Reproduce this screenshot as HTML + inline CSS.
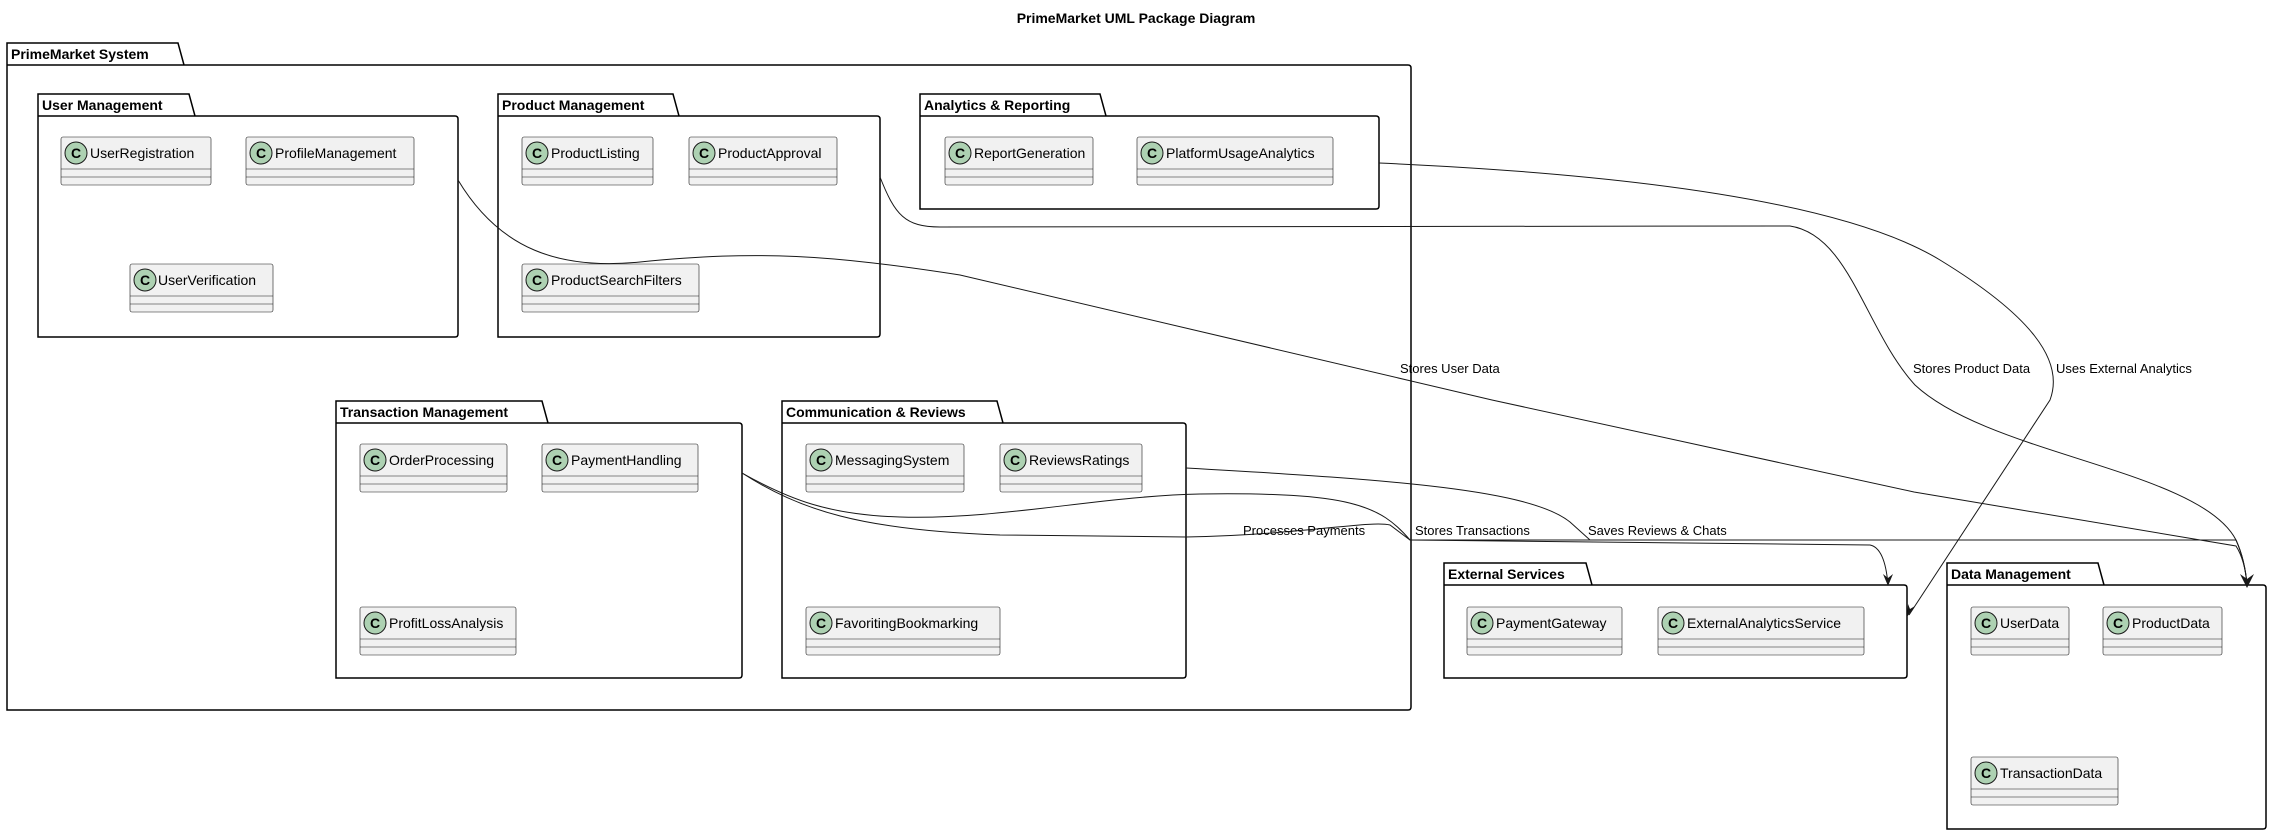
<!DOCTYPE html>
<html><head><meta charset="utf-8"><style>
html,body{margin:0;padding:0;background:#fff;}
svg{display:block;font-family:"Liberation Sans","DejaVu Sans",sans-serif;}
.pk{fill:none;stroke:#000;stroke-width:1.5;}
.pt{font-weight:bold;font-size:14px;fill:#000;}
.cl{fill:#f1f1f1;stroke:#181818;stroke-width:0.6;}
.ct{font-size:14px;fill:#000;}
.ed{fill:none;stroke:#181818;stroke-width:1;}
.lb{font-size:13px;fill:#000;}
</style></head><body>
<svg width="2272" height="835" viewBox="0 0 2272 835" xmlns="http://www.w3.org/2000/svg">
<text x="1136" y="23" text-anchor="middle" style="font-weight:bold;font-size:14px">PrimeMarket UML Package Diagram</text>

<path class="pk" d="M7,43 H178 L184,65 H1408 Q1411,65 1411,68 V707 Q1411,710 1408,710 H7 Z M7,65 H184"/>
<text class="pt" x="11" y="59">PrimeMarket System</text>

<g id="pkgs">
<path class="pk" d="M38,94 H189 L195,116 H455 Q458,116 458,119 V334 Q458,337 455,337 H38 Z M38,116 H195"/>
<text class="pt" x="42" y="110">User Management</text>
<path class="pk" d="M498,94 H673 L679,116 H877 Q880,116 880,119 V334 Q880,337 877,337 H498 Z M498,116 H679"/>
<text class="pt" x="502" y="110">Product Management</text>
<path class="pk" d="M920,94 H1100 L1106,116 H1376 Q1379,116 1379,119 V206 Q1379,209 1376,209 H920 Z M920,116 H1106"/>
<text class="pt" x="924" y="110">Analytics &amp; Reporting</text>
<path class="pk" d="M336,401 H542 L548,423 H739 Q742,423 742,426 V675 Q742,678 739,678 H336 Z M336,423 H548"/>
<text class="pt" x="340" y="417">Transaction Management</text>
<path class="pk" d="M782,401 H997 L1003,423 H1183 Q1186,423 1186,426 V675 Q1186,678 1183,678 H782 Z M782,423 H1003"/>
<text class="pt" x="786" y="417">Communication &amp; Reviews</text>
<path class="pk" d="M1444,563 H1586 L1592,585 H1904 Q1907,585 1907,588 V675 Q1907,678 1904,678 H1444 Z M1444,585 H1592"/>
<text class="pt" x="1448" y="579">External Services</text>
<path class="pk" d="M1947,563 H2098 L2104,585 H2263 Q2266,585 2266,588 V826 Q2266,829 2263,829 H1947 Z M1947,585 H2104"/>
<text class="pt" x="1951" y="579">Data Management</text>
</g>

<defs>
<g id="ci"><circle cx="0" cy="0" r="11" fill="#ADD1B2" stroke="#181818" stroke-width="1"/><text x="0" y="5" text-anchor="middle" style="font-size:14px;font-weight:bold">C</text></g>
</defs>
<g>
<rect class="cl" x="61" y="137" width="150" height="48" rx="2"/><line class="cl" x1="61" y1="169" x2="211" y2="169"/><line class="cl" x1="61" y1="177" x2="211" y2="177"/><use href="#ci" x="76" y="153"/><text class="ct" x="90" y="158">UserRegistration</text>
<rect class="cl" x="246" y="137" width="168" height="48" rx="2"/><line class="cl" x1="246" y1="169" x2="414" y2="169"/><line class="cl" x1="246" y1="177" x2="414" y2="177"/><use href="#ci" x="261" y="153"/><text class="ct" x="275" y="158">ProfileManagement</text>
<rect class="cl" x="130" y="264" width="143" height="48" rx="2"/><line class="cl" x1="130" y1="296" x2="273" y2="296"/><line class="cl" x1="130" y1="304" x2="273" y2="304"/><use href="#ci" x="145" y="280"/><text class="ct" x="158" y="285">UserVerification</text>

<rect class="cl" x="522" y="137" width="131" height="48" rx="2"/><line class="cl" x1="522" y1="169" x2="653" y2="169"/><line class="cl" x1="522" y1="177" x2="653" y2="177"/><use href="#ci" x="537" y="153"/><text class="ct" x="551" y="158">ProductListing</text>
<rect class="cl" x="689" y="137" width="148" height="48" rx="2"/><line class="cl" x1="689" y1="169" x2="837" y2="169"/><line class="cl" x1="689" y1="177" x2="837" y2="177"/><use href="#ci" x="704" y="153"/><text class="ct" x="718" y="158">ProductApproval</text>
<rect class="cl" x="522" y="264" width="177" height="48" rx="2"/><line class="cl" x1="522" y1="296" x2="699" y2="296"/><line class="cl" x1="522" y1="304" x2="699" y2="304"/><use href="#ci" x="537" y="280"/><text class="ct" x="551" y="285">ProductSearchFilters</text>

<rect class="cl" x="945" y="137" width="148" height="48" rx="2"/><line class="cl" x1="945" y1="169" x2="1093" y2="169"/><line class="cl" x1="945" y1="177" x2="1093" y2="177"/><use href="#ci" x="960" y="153"/><text class="ct" x="974" y="158">ReportGeneration</text>
<rect class="cl" x="1137" y="137" width="196" height="48" rx="2"/><line class="cl" x1="1137" y1="169" x2="1333" y2="169"/><line class="cl" x1="1137" y1="177" x2="1333" y2="177"/><use href="#ci" x="1152" y="153"/><text class="ct" x="1166" y="158">PlatformUsageAnalytics</text>

<rect class="cl" x="360" y="444" width="147" height="48" rx="2"/><line class="cl" x1="360" y1="476" x2="507" y2="476"/><line class="cl" x1="360" y1="484" x2="507" y2="484"/><use href="#ci" x="375" y="460"/><text class="ct" x="389" y="465">OrderProcessing</text>
<rect class="cl" x="542" y="444" width="156" height="48" rx="2"/><line class="cl" x1="542" y1="476" x2="698" y2="476"/><line class="cl" x1="542" y1="484" x2="698" y2="484"/><use href="#ci" x="557" y="460"/><text class="ct" x="571" y="465">PaymentHandling</text>
<rect class="cl" x="360" y="607" width="156" height="48" rx="2"/><line class="cl" x1="360" y1="639" x2="516" y2="639"/><line class="cl" x1="360" y1="647" x2="516" y2="647"/><use href="#ci" x="375" y="623"/><text class="ct" x="389" y="628">ProfitLossAnalysis</text>

<rect class="cl" x="806" y="444" width="158" height="48" rx="2"/><line class="cl" x1="806" y1="476" x2="964" y2="476"/><line class="cl" x1="806" y1="484" x2="964" y2="484"/><use href="#ci" x="821" y="460"/><text class="ct" x="835" y="465">MessagingSystem</text>
<rect class="cl" x="1000" y="444" width="142" height="48" rx="2"/><line class="cl" x1="1000" y1="476" x2="1142" y2="476"/><line class="cl" x1="1000" y1="484" x2="1142" y2="484"/><use href="#ci" x="1015" y="460"/><text class="ct" x="1029" y="465">ReviewsRatings</text>
<rect class="cl" x="806" y="607" width="194" height="48" rx="2"/><line class="cl" x1="806" y1="639" x2="1000" y2="639"/><line class="cl" x1="806" y1="647" x2="1000" y2="647"/><use href="#ci" x="821" y="623"/><text class="ct" x="835" y="628">FavoritingBookmarking</text>

<rect class="cl" x="1467" y="607" width="155" height="48" rx="2"/><line class="cl" x1="1467" y1="639" x2="1622" y2="639"/><line class="cl" x1="1467" y1="647" x2="1622" y2="647"/><use href="#ci" x="1482" y="623"/><text class="ct" x="1496" y="628">PaymentGateway</text>
<rect class="cl" x="1658" y="607" width="206" height="48" rx="2"/><line class="cl" x1="1658" y1="639" x2="1864" y2="639"/><line class="cl" x1="1658" y1="647" x2="1864" y2="647"/><use href="#ci" x="1673" y="623"/><text class="ct" x="1687" y="628">ExternalAnalyticsService</text>

<rect class="cl" x="1971" y="607" width="98" height="48" rx="2"/><line class="cl" x1="1971" y1="639" x2="2069" y2="639"/><line class="cl" x1="1971" y1="647" x2="2069" y2="647"/><use href="#ci" x="1986" y="623"/><text class="ct" x="2000" y="628">UserData</text>
<rect class="cl" x="2103" y="607" width="119" height="48" rx="2"/><line class="cl" x1="2103" y1="639" x2="2222" y2="639"/><line class="cl" x1="2103" y1="647" x2="2222" y2="647"/><use href="#ci" x="2118" y="623"/><text class="ct" x="2132" y="628">ProductData</text>
<rect class="cl" x="1971" y="757" width="147" height="48" rx="2"/><line class="cl" x1="1971" y1="789" x2="2118" y2="789"/><line class="cl" x1="1971" y1="797" x2="2118" y2="797"/><use href="#ci" x="1986" y="773"/><text class="ct" x="2000" y="778">TransactionData</text>
</g>

<path class="ed" d="M458,180 C500,250 560,270 640,262 C760,250 830,255 960,275 L1492,400 L1914,492 L2236,546 Q2245,560 2247,585"/>
<path class="ed" d="M880,177 C895,215 905,227 940,227 L1790,226 C1850,235 1865,330 1915,385 C1990,455 2200,470 2236,540 Q2245,560 2247,585"/>
<path class="ed" d="M1379,163 C1650,175 1850,205 1940,260 C2030,315 2065,360 2050,400 L1909,615"/>
<path class="ed" d="M742,473 C790,500 830,515 900,517 C1000,520 1100,496 1200,494 C1350,492 1380,505 1410,540 L2236,540 Q2245,560 2247,585"/>
<path class="ed" d="M742,473 C800,510 860,530 1000,535 L1186,537 C1300,535 1370,520 1390,525 L1410,540 L1870,545 Q1885,548 1888,585"/>
<path class="ed" d="M1186,468 C1400,480 1530,490 1570,522 L1590,540 L2236,540"/>
<path d="M2247,588 L2240,574 L2247,579 L2254,574 Z" fill="#181818"/>
<path d="M1888,586 L1883,574 L1888,578 L1893,574 Z" fill="#181818"/>
<path d="M1907,617 L1908,604 L1910,609 L1915,606 Z" fill="#181818"/>

<text class="lb" x="1400" y="373">Stores User Data</text>
<text class="lb" x="1913" y="373">Stores Product Data</text>
<text class="lb" x="2056" y="373">Uses External Analytics</text>
<text class="lb" x="1243" y="535">Processes Payments</text>
<text class="lb" x="1415" y="535">Stores Transactions</text>
<text class="lb" x="1588" y="535">Saves Reviews &amp; Chats</text>
</svg>
</body></html>
